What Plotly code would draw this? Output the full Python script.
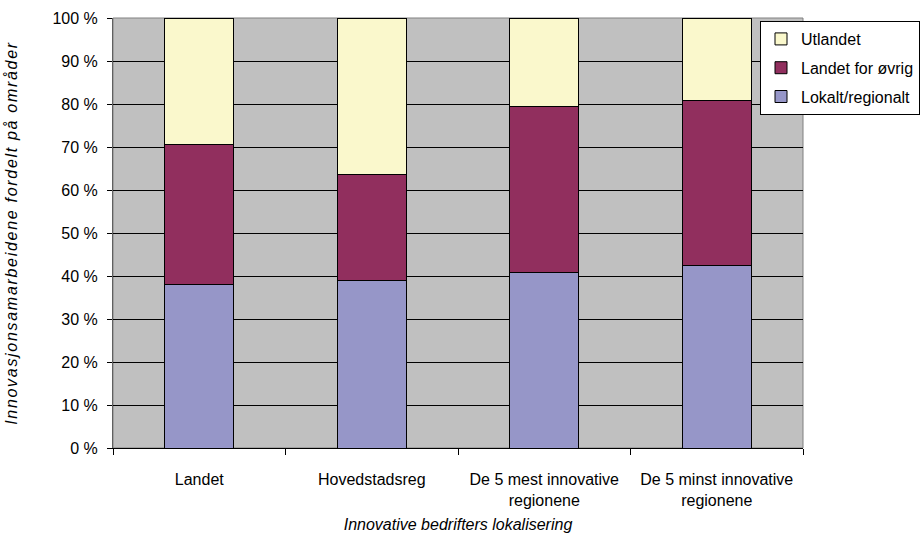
import plotly.graph_objects as go

# Share of innovation partnerships by area, per location group of the innovative firms
categories = [
    "Landet",
    "Hovedstadsreg",
    "De 5 mest innovative<br>regionene",
    "De 5 minst innovative<br>regionene",
]
lokalt_regionalt = [38.0, 39.0, 40.7, 42.4]
landet_for_ovrig = [32.5, 24.6, 38.8, 38.5]
utlandet = [29.5, 36.4, 20.5, 19.1]

y_ticks = [0, 10, 20, 30, 40, 50, 60, 70, 80, 90, 100]

# (name, values, colour, position in legend)
series = [
    ("Lokalt/regionalt", lokalt_regionalt, "#9696C8", 3),
    ("Landet for øvrig", landet_for_ovrig, "#912F5E", 2),
    ("Utlandet", utlandet, "#FAF8CC", 1),
]

FONT = "Liberation Sans, Arial, sans-serif"

fig = go.Figure()
for name, values, color, rank in series:
    fig.add_trace(
        go.Bar(
            x=categories,
            y=values,
            name=name,
            legendgroup=name,
            legendrank=rank,
            marker=dict(color=color, line=dict(color="#000000", width=1)),
            width=0.4,
        )
    )

fig.update_layout(
    barmode="stack",
    width=923,
    height=535,
    margin=dict(l=113, r=120, t=18, b=87, autoexpand=False),
    paper_bgcolor="#FFFFFF",
    plot_bgcolor="#C0C0C0",
    font=dict(family=FONT, size=16, color="#000000"),
    showlegend=True,
    legend=dict(
        x=0.9377,
        y=0.993,
        xanchor="left",
        yanchor="top",
        bgcolor="#FFFFFF",
        bordercolor="#000000",
        borderwidth=1,
        traceorder="grouped",
        tracegroupgap=5,
        itemwidth=30,
        font=dict(family=FONT, size=16, color="#000000"),
    ),
    xaxis=dict(
        tickson="boundaries",
        ticks="outside",
        ticklen=6,
        tickcolor="#000000",
        ticklabelstandoff=17,
        tickangle=0,
        showline=True,
        linecolor="#000000",
        linewidth=1,
        showgrid=False,
        tickfont=dict(family=FONT, size=16),
        title=dict(
            text="Innovative bedrifters lokalisering",
            font=dict(family=FONT, size=16, style="italic"),
            standoff=10,
        ),
    ),
    yaxis=dict(
        range=[0, 100],
        tickvals=y_ticks,
        ticktext=[f"{v} %" for v in y_ticks],
        ticks="outside",
        ticklen=5,
        tickcolor="#000000",
        ticklabelstandoff=6,
        showline=True,
        linecolor="#606060",
        linewidth=1,
        showgrid=True,
        gridcolor="#000000",
        gridwidth=1,
        zeroline=False,
        tickfont=dict(family=FONT, size=16),
        title=dict(
            text="Innovasjonsamarbeidene fordelt på områder",
            font=dict(family=FONT, size=16, style="italic"),
            standoff=30,
        ),
    ),
)

# thin grey frame around the plotting area
fig.add_shape(
    type="rect", xref="paper", yref="paper", x0=0, y0=0, x1=1, y1=1,
    line=dict(color="#808080", width=1), layer="below",
)

fig.write_html(
    "out.html",
    post_script=(
        "document.querySelectorAll('.ytitle').forEach(function(e){"
        "e.style.letterSpacing='1.7px';});"
    ),
)
